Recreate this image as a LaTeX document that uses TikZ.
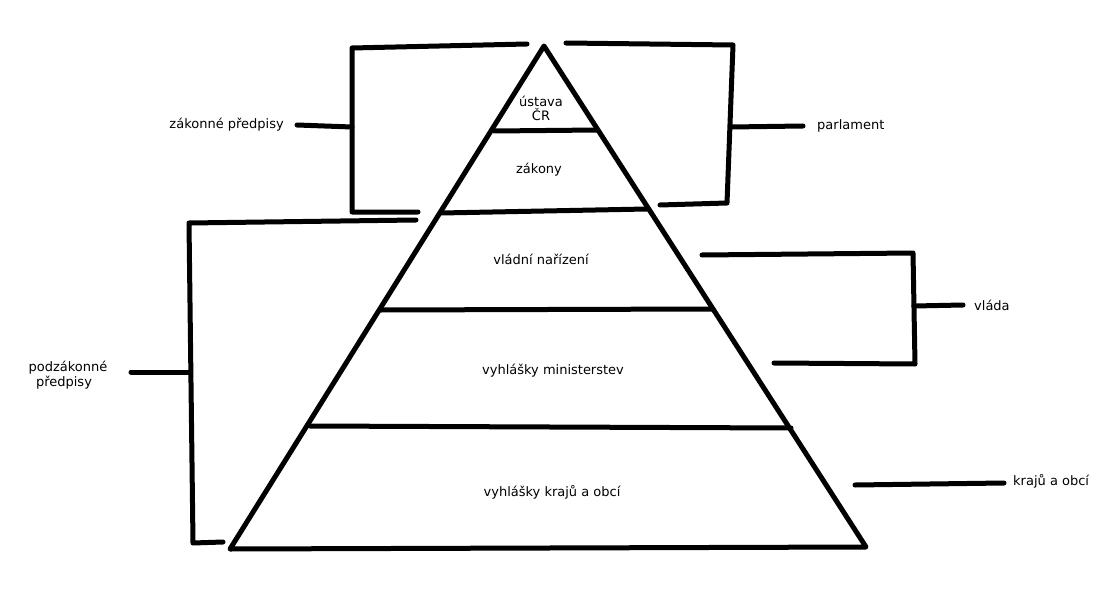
\documentclass[tikz,border=0pt]{standalone}
\usepackage{fontspec}
\setmainfont{DejaVu Sans}
\begin{document}
\begin{tikzpicture}[x=1pt,y=-1pt,
  thick line/.style={line width=5pt, line cap=round, line join=round},
  lbl/.style={font=\fontsize{13}{16}\selectfont, inner sep=0pt, align=center}]
\useasboundingbox (0,0) rectangle (1118,596);
% pyramid
\coordinate (apex) at (544,46);
\coordinate (bl) at (230,549);
\coordinate (br) at (866,547);
\draw[thick line] (apex) -- (br) -- (bl) -- cycle;
% layer separators
\coordinate (s1l) at (494,131); \coordinate (s1r) at (598,130);
\coordinate (s2l) at (441,213); \coordinate (s2r) at (647,209);
\coordinate (s3l) at (381,310); \coordinate (s3r) at (713,309);
\coordinate (s4l) at (310,426); \coordinate (s4r) at (791,428);
\draw[thick line] (s1l) -- (s1r);
\draw[thick line] (s2l) -- (s2r);
\draw[thick line] (s3l) -- (s3r);
\draw[thick line] (s4l) -- (s4r);
% layer labels
\node[lbl] (ustava) at (541,108) {ústava\\[-2pt]ČR};
\node[lbl] (zakony) at (539,170) {zákony};
\node[lbl] (vladni) at (541,259) {vládní nařízení};
\node[lbl] (minis) at (553,371) {vyhlášky ministerstev};
\node[lbl] (kraje) at (552,492) {vyhlášky krajů a obcí};
% zakonne predpisy bracket
\coordinate (z1) at (527,44); \coordinate (z2) at (352,48);
\coordinate (z3) at (352,212); \coordinate (z4) at (418,212);
\coordinate (zm) at (352,127);
\draw[thick line] (z1) -- (z2) -- (z3) -- (z4);
\node[lbl, anchor=east] (zp) at (284,125) {zákonné předpisy};
\coordinate (zs) at (297,125);
\draw[thick line] (zs) -- (zm);
% parlament bracket
\coordinate (p1) at (566,43); \coordinate (p2) at (733,45);
\coordinate (p3) at (727,203); \coordinate (p4) at (660,205);
\coordinate (pm) at (731,127); \coordinate (ps) at (803,126);
\draw[thick line] (p1) -- (p2) -- (p3) -- (p4);
\draw[thick line] (pm) -- (ps);
\node[lbl, anchor=west] (parl) at (817,126) {parlament};
% podzakonne predpisy bracket
\coordinate (q1) at (416,220); \coordinate (q2) at (189,223);
\coordinate (q3) at (193,543); \coordinate (q4) at (223,542);
\coordinate (qm) at (189,372); \coordinate (qs) at (131,372);
\draw[thick line] (q1) -- (q2) -- (q3) -- (q4);
\draw[thick line] (qs) -- (qm);
\node[lbl] (pzp) at (68,375) {podzákonné\\[-1pt]předpisy\hspace*{8pt}};
% vlada bracket
\coordinate (v1) at (702,255); \coordinate (v2) at (913,253);
\coordinate (v3) at (915,364); \coordinate (v4) at (774,363);
\coordinate (vm) at (914,306); \coordinate (vs) at (963,305);
\draw[thick line] (v1) -- (v2) -- (v3) -- (v4);
\draw[thick line] (vm) -- (vs);
\node[lbl, anchor=west] (vlada) at (974,305) {vláda};
% kraju a obci
\coordinate (k1) at (855,485); \coordinate (k2) at (1004,483);
\draw[thick line] (k1) -- (k2);
\node[lbl, anchor=west] (kao) at (1013,481) {krajů a obcí};
\end{tikzpicture}
\end{document}
